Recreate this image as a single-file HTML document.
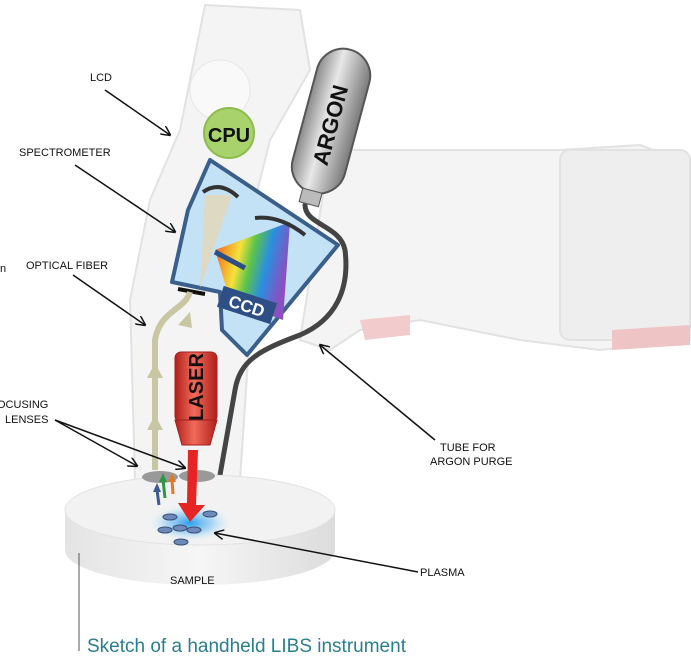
<!DOCTYPE html>
<html><head><style>
body{margin:0;background:#fff;width:691px;height:661px;overflow:hidden}
svg{display:block}
text{font-family:"Liberation Sans",sans-serif}
</style></head><body>
<svg width="691" height="661" viewBox="0 0 691 661">
<defs>
<marker id="ah" markerWidth="10" markerHeight="10" refX="9" refY="5" orient="auto" markerUnits="userSpaceOnUse"><path d="M0,0 L10,5 L0,10" fill="none" stroke="#111" stroke-width="1.5"/></marker>
<linearGradient id="rb" x1="0" y1="0" x2="1" y2="0.3">
<stop offset="0" stop-color="#e53a2e"/><stop offset="0.2" stop-color="#f39a2a"/><stop offset="0.38" stop-color="#f5e23a"/><stop offset="0.55" stop-color="#5cc44a"/><stop offset="0.75" stop-color="#2a8fe0"/><stop offset="1" stop-color="#8a4fc0"/></linearGradient>
<linearGradient id="tank" x1="0" y1="0" x2="1" y2="0"><stop offset="0" stop-color="#8a8a8a"/><stop offset="0.4" stop-color="#e8e8e8"/><stop offset="1" stop-color="#7a7a7a"/></linearGradient>
<linearGradient id="las" x1="0" y1="0" x2="1" y2="0"><stop offset="0" stop-color="#b0201a"/><stop offset="0.45" stop-color="#f26a5a"/><stop offset="1" stop-color="#b0201a"/></linearGradient>
<radialGradient id="glow"><stop offset="0" stop-color="#2aa0ee"/><stop offset="0.5" stop-color="#8ccaf2" stop-opacity="0.7"/><stop offset="1" stop-color="#fff" stop-opacity="0"/></radialGradient>
<linearGradient id="disc" x1="0" y1="0" x2="1" y2="0"><stop offset="0" stop-color="#e4e4e4"/><stop offset="0.5" stop-color="#f6f6f6"/><stop offset="1" stop-color="#dcdcdc"/></linearGradient>
</defs>
<!-- faint gun body -->
<g fill="#f4f4f4" stroke="#e2e2e2" stroke-width="2">
<path d="M205,5 L300,10 L310,70 L270,140 L255,200 L250,330 L240,480 L135,480 L130,300 L150,200 L180,130 Z"/>
<path d="M330,150 L560,150 L640,145 L680,160 L690,340 L600,350 L520,340 L420,320 L360,330 L330,350 L300,340 Z"/>
<rect x="560" y="150" width="130" height="190" rx="10" fill="#eeeeee"/>
</g>
<path d="M612,330 L690,325 L690,345 L612,350 Z" fill="#efc4c4" stroke="none"/>
<path d="M360,320 L410,315 L410,335 L365,340 Z" fill="#f2cccc" stroke="none"/>
<circle cx="220" cy="90" r="30" fill="#f9f9f9" stroke="#e6e6e6"/>
<!-- CPU -->
<circle cx="229" cy="133" r="25" fill="#a8d36c" stroke="#8cbc4e" stroke-width="2"/>
<text x="229" y="142" font-size="20" font-weight="bold" text-anchor="middle" fill="#111">CPU</text>
<!-- tube -->
<path d="M305,205 C305,225 340,225 345,250 C350,290 335,320 300,335 C260,350 240,360 235,390 L220,475" fill="none" stroke="#444" stroke-width="5" stroke-linecap="round"/>
<!-- argon tank -->
<g transform="translate(330,125) rotate(15)">
<rect x="-27" y="-78" width="54" height="148" rx="27" fill="url(#tank)" stroke="#555" stroke-width="2"/>
<rect x="-10" y="68" width="20" height="14" fill="#bbb" stroke="#555"/>
<text transform="rotate(-90)" x="0" y="8" font-size="22" font-weight="bold" text-anchor="middle" fill="#111">ARGON</text>
</g>
<!-- spectrometer -->
<path d="M210,160 L338,245 L247,355 L222,330 L220,292 L172,282 L188,210 Z" fill="#c4e2f6" stroke="#3a5f8a" stroke-width="4" stroke-linejoin="round"/>
<path d="M205,195 L232,195 L200,288 Z" fill="#e0d8bc" opacity="0.9"/>
<path d="M203,192 Q220,180 238,197" fill="none" stroke="#333" stroke-width="4"/>
<path d="M215,250 L290,222 L283,320 L230,300 Z" fill="url(#rb)"/>
<path d="M255,218 Q280,215 305,235" fill="none" stroke="#333" stroke-width="4"/>
<line x1="215" y1="252" x2="245" y2="268" stroke="#2d4f86" stroke-width="5"/>
<g transform="translate(247,305) rotate(18)"><rect x="-28" y="-11" width="56" height="22" fill="#2d4f86"/><text x="0" y="7" font-size="17" font-weight="bold" text-anchor="middle" fill="#fff">CCD</text></g>
<line x1="178" y1="289" x2="205" y2="294" stroke="#111" stroke-width="4"/>
<!-- optical fiber -->
<path d="M190,292 C185,310 160,310 155,340 L155,470" fill="none" stroke="#c9c7a3" stroke-width="6"/>
<path d="M147,378 L155,363 L163,378 Z M147,430 L155,415 L163,430 Z M178,325 L190,312 L192,328 Z" fill="#c9c7a3"/>
<!-- laser -->
<rect x="175" y="352" width="42" height="70" rx="6" fill="url(#las)" stroke="#a02020"/>
<path d="M175,420 L217,420 L210,445 L182,445 Z" fill="url(#las)" stroke="#a02020"/>
<text transform="translate(203,387) rotate(-90)" font-size="20" font-weight="bold" text-anchor="middle" fill="#111">LASER</text>
<!-- sample disc -->
<path d="M65,510 L65,550 A135,35 0 0 0 335,550 L335,510 Z" fill="url(#disc)"/>
<ellipse cx="200" cy="510" rx="135" ry="35" fill="#f2f2f2" stroke="#e2e2e2"/>
<ellipse cx="190" cy="523" rx="45" ry="20" fill="url(#glow)"/>
<ellipse cx="160" cy="477" rx="18" ry="6" fill="#999"/>
<ellipse cx="197" cy="476" rx="18" ry="6" fill="#999"/>
<!-- red beam -->
<path d="M188,450 L198,450 L196,505 L205,505 L190,522 L178,503 L187,503 Z" fill="#e52424"/>
<g fill="#6d8ab8" stroke="#3a4f78"><ellipse cx="170" cy="517" rx="7" ry="3"/><ellipse cx="210" cy="514" rx="7" ry="3"/><ellipse cx="165" cy="530" rx="7" ry="3"/><ellipse cx="180" cy="528" rx="7" ry="3"/><ellipse cx="194" cy="530" rx="7" ry="3"/><ellipse cx="181" cy="542" rx="7" ry="3"/></g>
<path d="M159,505 L157,490" stroke="#3b5a9a" stroke-width="3"/><path d="M153,492 L157,483 L161,492Z" fill="#3b5a9a"/>
<path d="M165,498 L163,480" stroke="#2a9a4a" stroke-width="3"/><path d="M159,482 L163,473 L167,482Z" fill="#2a9a4a"/>
<path d="M173,494 L172,480" stroke="#e07a2a" stroke-width="3"/><path d="M168,482 L172,473 L176,482Z" fill="#e07a2a"/>
<!-- labels -->
<g font-size="11" fill="#111">
<text x="90" y="81">LCD</text>
<text x="19" y="156">SPECTROMETER</text>
<text x="26" y="269">OPTICAL FIBER</text>
<text x="-3" y="408">OCUSING</text>
<text x="5" y="423">LENSES</text>
<text x="440" y="451">TUBE FOR</text>
<text x="430" y="465">ARGON PURGE</text>
<text x="420" y="576">PLASMA</text>
<text x="170" y="584">SAMPLE</text>
<text x="0" y="272">n</text>
</g>
<g stroke="#111" stroke-width="1.5" fill="none" marker-end="url(#ah)">
<line x1="105" y1="90" x2="170" y2="135"/>
<line x1="75" y1="165" x2="175" y2="232"/>
<line x1="73" y1="275" x2="145" y2="325"/>
<line x1="55" y1="420" x2="137" y2="466"/>
<line x1="55" y1="420" x2="185" y2="468"/>
<line x1="435" y1="440" x2="320" y2="345"/>
<line x1="418" y1="572" x2="215" y2="533"/>
</g>
<line x1="79" y1="553" x2="79" y2="651" stroke="#555" stroke-width="1"/>
<text x="87" y="652" font-size="19" fill="#2a7f8e">Sketch of a handheld LIBS instrument</text>
</svg>
</body></html>
